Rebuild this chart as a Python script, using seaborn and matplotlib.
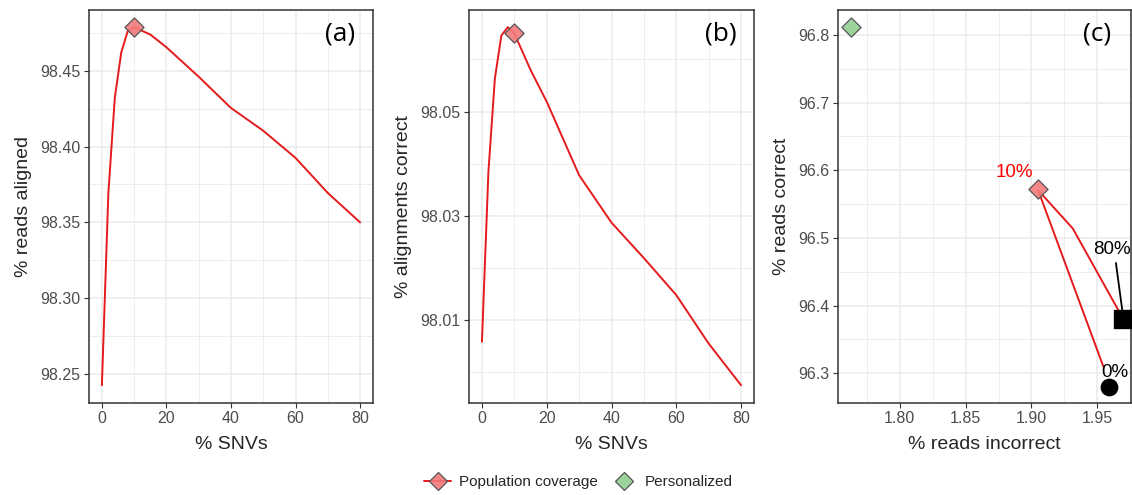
import numpy as np
import matplotlib
matplotlib.use('Agg')
import matplotlib.pyplot as plt
from matplotlib.lines import Line2D
from matplotlib.ticker import MultipleLocator
import pandas as pd
import seaborn as sns

# ------------------
# data
# ------------------
SNV = [0, 2, 4, 6, 8, 10, 15, 20, 30, 40, 50, 60, 70, 80]
READS_ALIGNED = [98.2427, 98.369, 98.432, 98.462, 98.476, 98.4786, 98.4738,
                 98.4654, 98.446, 98.4254, 98.4104, 98.3925, 98.3694, 98.350]
ALIGN_CORRECT = [98.00585, 98.0385, 98.0564, 98.0646, 98.0662, 98.0650, 98.0580,
                 98.0519, 98.0378, 98.0287, 98.0219, 98.0148, 98.0055, 97.9975]

# panel (c): visible vertices of the population path
PATH_INCORRECT = [1.9546, 1.9051, 1.9314, 1.9664]
PATH_CORRECT = [96.3097, 96.5705, 96.5139, 96.3916]

BEST_SNV = 10
BEST_ALIGNED = 98.479
BEST_CORRECT = 98.065
BEST_C = (1.9051, 96.573)
PERSONAL_C = (1.7633, 96.8123)
ZERO_C = (1.9588, 96.2802)
EIGHTY_C = (1.9698, 96.3803)

RED = '#e41a1c'
RED_FILL = (0.95, 0.48, 0.48, 0.9)
GREEN_FILL = '#9dd49b'
EDGE = '#555555'
GRID = '#ebebeb'

sns.set_style('white')
plt.rcParams['font.family'] = ['Liberation Sans', 'DejaVu Sans']


def style_axis(ax, xmaj, ymaj):
    ax.xaxis.set_major_locator(MultipleLocator(xmaj))
    ax.xaxis.set_minor_locator(MultipleLocator(xmaj / 2))
    ax.yaxis.set_major_locator(MultipleLocator(ymaj))
    ax.yaxis.set_minor_locator(MultipleLocator(ymaj / 2))
    ax.grid(True, which='major', color=GRID, lw=1.1)
    ax.grid(True, which='minor', color=GRID, lw=0.6)
    ax.set_axisbelow(True)
    for s in ax.spines.values():
        s.set_color('#333333')
        s.set_linewidth(1.1)
    ax.tick_params(which='major', length=3.5, width=0.8, color='#333333',
                   labelsize=11.5, labelcolor='#4d4d4d', pad=2.5,
                   bottom=True, left=True)
    ax.tick_params(which='minor', length=0)


def panel_tag(ax, txt):
    ax.text(0.885, 0.94, txt, transform=ax.transAxes, ha='center', va='center',
            fontsize=19, family='Open Sans', color='black')


fig = plt.figure(figsize=(11.32, 4.95), dpi=100)
bot, hgt = 0.1859, 0.794
ax1 = fig.add_axes([0.0786, bot, 0.2509, hgt])
ax2 = fig.add_axes([0.4143, bot, 0.2518, hgt])
ax3 = fig.add_axes([0.7403, bot, 0.2590, hgt])

df = pd.DataFrame({'snv': SNV, 'aligned': READS_ALIGNED, 'correct': ALIGN_CORRECT})

# (a)
sns.lineplot(data=df, x='snv', y='aligned', ax=ax1, color=RED, lw=1.4, sort=False)
sns.scatterplot(x=[BEST_SNV], y=[BEST_ALIGNED], ax=ax1, marker='D', s=95,
                color=RED_FILL, edgecolor=EDGE, linewidth=0.9, zorder=5)
ax1.set_xlim(-4, 84)
ax1.set_ylim(98.231, 98.490)
style_axis(ax1, 20, 0.05)
ax1.yaxis.set_major_formatter(matplotlib.ticker.FormatStrFormatter('%.2f'))
ax1.set_xlabel('% SNVs', fontsize=14, labelpad=7)
ax1.set_ylabel('% reads aligned', fontsize=14, labelpad=6)
panel_tag(ax1, '(a)')

# (b)
sns.lineplot(data=df, x='snv', y='correct', ax=ax2, color=RED, lw=1.4, sort=False)
sns.scatterplot(x=[BEST_SNV], y=[BEST_CORRECT], ax=ax2, marker='D', s=95,
                color=RED_FILL, edgecolor=EDGE, linewidth=0.9, zorder=5)
ax2.set_xlim(-4, 84)
ax2.set_ylim(97.9941, 98.0695)
style_axis(ax2, 20, 0.02)
ax2.set_yticks([98.01, 98.03, 98.05])
ax2.yaxis.set_minor_locator(matplotlib.ticker.FixedLocator([98.00, 98.02, 98.04, 98.06]))
ax2.yaxis.set_major_formatter(matplotlib.ticker.FormatStrFormatter('%.2f'))
ax2.set_xlabel('% SNVs', fontsize=14, labelpad=7)
ax2.set_ylabel('% alignments correct', fontsize=14, labelpad=6)
panel_tag(ax2, '(b)')

# (c)
sns.lineplot(x=PATH_INCORRECT, y=PATH_CORRECT, ax=ax3, color=RED, lw=1.4, sort=False)
sns.scatterplot(x=[BEST_C[0]], y=[BEST_C[1]], ax=ax3, marker='D', s=95,
                color=RED_FILL, edgecolor=EDGE, linewidth=0.9, zorder=5)
sns.scatterplot(x=[PERSONAL_C[0]], y=[PERSONAL_C[1]], ax=ax3, marker='D', s=95,
                color=GREEN_FILL, edgecolor=EDGE, linewidth=0.9, zorder=5)
sns.scatterplot(x=[ZERO_C[0]], y=[ZERO_C[1]], ax=ax3, marker='o', s=140,
                color='black', edgecolor='black', zorder=6)
sns.scatterplot(x=[EIGHTY_C[0]], y=[EIGHTY_C[1]], ax=ax3, marker='s', s=150,
                color='black', edgecolor='black', zorder=6, clip_on=False)
ax3.text(1.8871, 96.597, '10%', color='red', fontsize=13.5, ha='center', va='center')
ax3.text(1.9614, 96.4827, '80%', color='black', fontsize=13.5, ha='center', va='center')
ax3.text(1.9634, 96.3009, '0%', color='black', fontsize=13.5, ha='center', va='center', zorder=7)
ax3.plot([1.9641, 1.9690], [96.463, 96.392], color='black', lw=1.3)
ax3.set_xlim(1.7532, 1.9757)
ax3.set_ylim(96.2561, 96.837)
style_axis(ax3, 0.05, 0.1)
ax3.xaxis.set_major_formatter(matplotlib.ticker.FormatStrFormatter('%.2f'))
ax3.set_xlabel('% reads incorrect', fontsize=14, labelpad=7)
ax3.set_ylabel('% reads correct', fontsize=14, labelpad=6)
panel_tag(ax3, '(c)')

# legend
handles = [
    Line2D([], [], color=RED, lw=1.4, marker='D', markersize=9.5,
           markerfacecolor=RED_FILL, markeredgecolor=EDGE, markeredgewidth=0.9),
    Line2D([], [], color='none', marker='D', markersize=9.5,
           markerfacecolor=GREEN_FILL, markeredgecolor=EDGE, markeredgewidth=0.9),
]
fig.legend(handles, ['Population coverage', 'Personalized'], loc='center',
           bbox_to_anchor=(0.511, 0.026), ncol=2, frameon=False, fontsize=11,
           handlelength=1.8, handletextpad=0.5, columnspacing=0.8)

fig.savefig('out.png', dpi=100)
